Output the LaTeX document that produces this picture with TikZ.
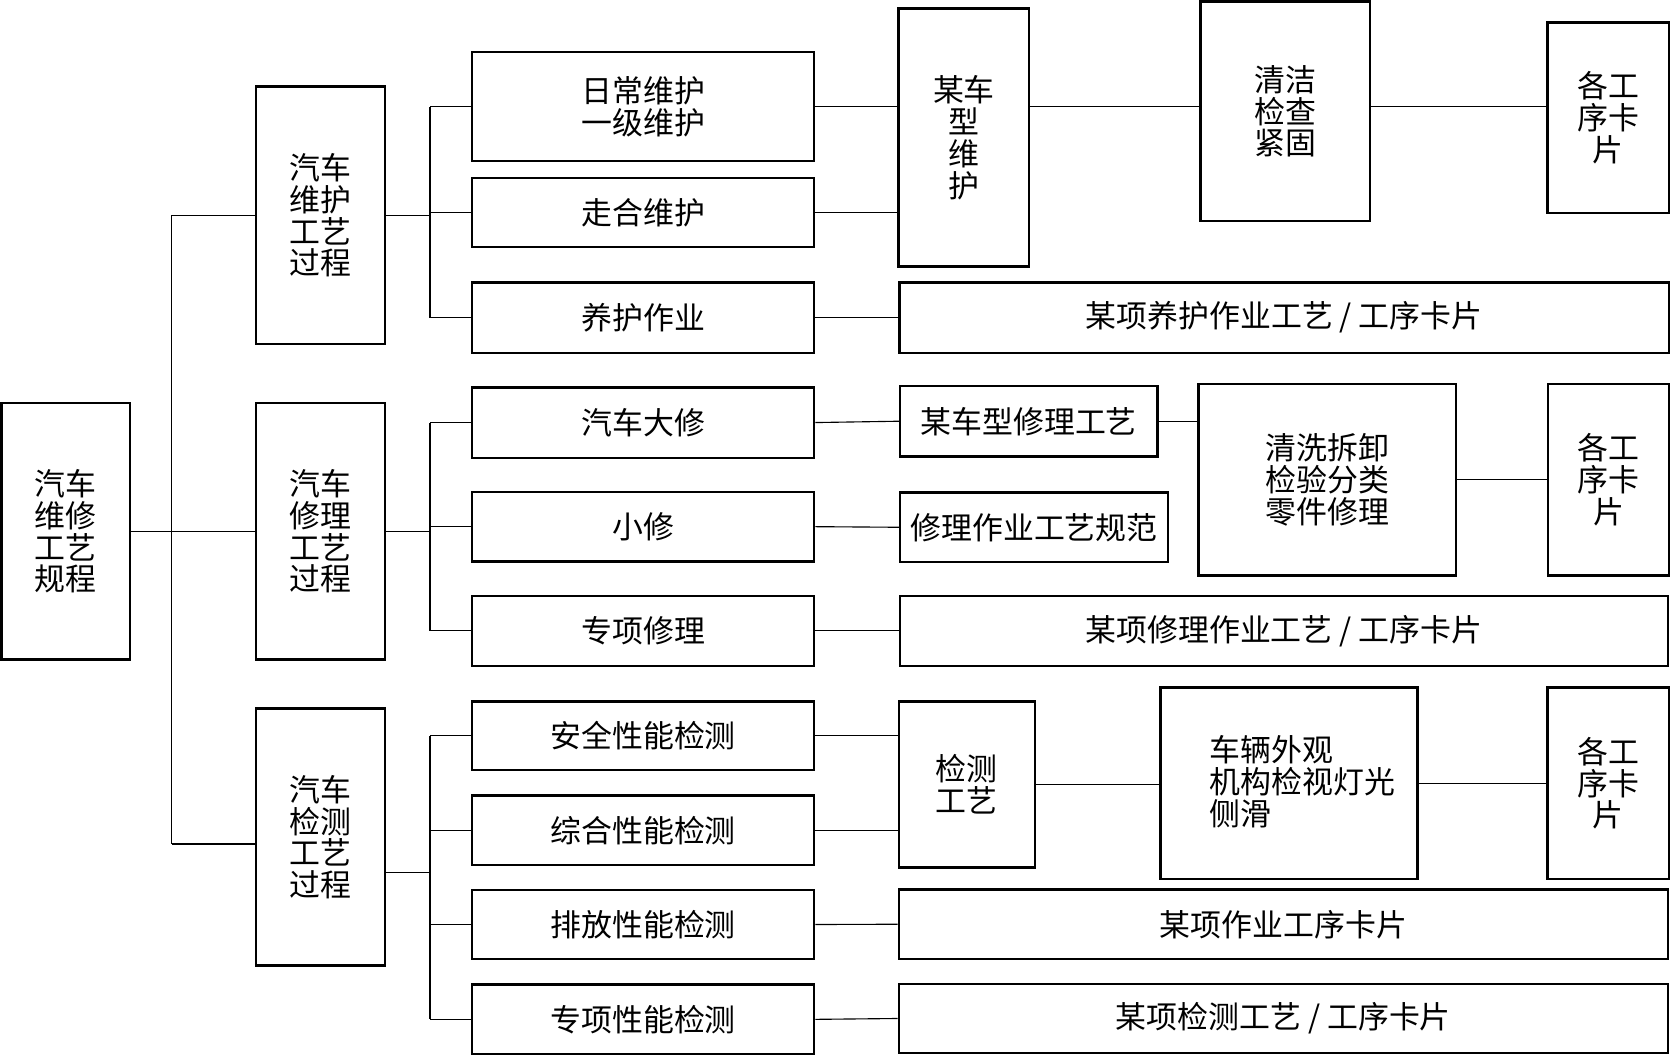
\documentclass[tikz,border=0pt]{standalone}
\usepackage{fontspec}
\newfontfamily\cjk{Noto Sans CJK SC}
\usepackage{tikz}

\begin{document}
\begin{tikzpicture}[x=1cm,y=1cm,
  every node/.style={font=\cjk\fontsize{16.5}{17}\selectfont},
  box/.style={draw, line width=1.3pt, inner sep=0pt, align=center},
  link/.style={line width=0.6pt}]
\useasboundingbox (0,0) rectangle (31.36,-19.82);
\node[box, minimum width=2.41cm, minimum height=4.82cm] (root) at (1.235,-9.97) {汽车\\维修\\工艺\\规程};
\node[box, minimum width=2.42cm, minimum height=4.84cm] (g1) at (6.01,-4.04) {汽车\\维护\\工艺\\过程};
\node[box, minimum width=2.42cm, minimum height=4.82cm] (g2) at (6.01,-9.97) {汽车\\修理\\工艺\\过程};
\node[box, minimum width=2.42cm, minimum height=4.82cm] (g3) at (6.01,-15.71) {汽车\\检测\\工艺\\过程};
\node[box, minimum width=6.42cm, minimum height=2.04cm] (d1) at (12.07,-2.00) {日常维护\\一级维护};
\node[box, minimum width=6.42cm, minimum height=1.30cm] (d2) at (12.07,-3.99) {走合维护};
\node[box, minimum width=6.42cm, minimum height=1.32cm] (d3) at (12.07,-5.96) {养护作业};
\node[box, minimum width=6.42cm, minimum height=1.32cm] (d4) at (12.07,-7.93) {汽车大修};
\node[box, minimum width=6.42cm, minimum height=1.31cm] (d5) at (12.07,-9.884) {小修};
\node[box, minimum width=6.42cm, minimum height=1.32cm] (d6) at (12.07,-11.84) {专项修理};
\node[box, minimum width=6.42cm, minimum height=1.29cm] (d7) at (12.07,-13.81) {安全性能检测};
\node[box, minimum width=6.42cm, minimum height=1.30cm] (d8) at (12.07,-15.58) {综合性能检测};
\node[box, minimum width=6.42cm, minimum height=1.30cm] (d9) at (12.07,-17.35) {排放性能检测};
\node[box, minimum width=6.42cm, minimum height=1.31cm] (d10) at (12.07,-19.13) {专项性能检测};
\node[box, minimum width=2.45cm, minimum height=4.84cm] (m1) at (18.09,-2.58) {某车\\型\\维\\护};
\node[box, minimum width=3.18cm, minimum height=4.12cm] (c1) at (24.12,-2.09) {清洁\\检查\\紧固};
\node[box, minimum width=2.28cm, minimum height=3.58cm] (k1) at (30.18,-2.21) {各工\\序卡\\片};
\node[box, minimum width=14.44cm, minimum height=1.32cm] (l1) at (24.10,-5.96) {某项养护作业工艺 / 工序卡片};
\node[box, minimum width=4.83cm, minimum height=1.33cm] (m2) at (19.305,-7.905) {某车型修理工艺};
\node[box, minimum width=5.03cm, minimum height=1.31cm] (m3) at (19.405,-9.895) {修理作业工艺规范};
\node[box, minimum width=4.826cm, minimum height=3.594cm] (c2) at (24.907,-9.003) {清洗拆卸\\检验分类\\零件修理};
\node[box, minimum width=2.268cm, minimum height=3.594cm] (k2) at (30.186,-9.003) {各工\\序卡\\片};
\node[box, minimum width=14.41cm, minimum height=1.32cm] (l2) at (24.095,-11.84) {某项修理作业工艺 / 工序卡片};
\node[box, minimum width=2.552cm, minimum height=3.112cm] (m4) at (18.144,-14.724) {检测\\工艺};
\node[box, minimum width=4.82cm, minimum height=3.60cm] (c3) at (24.19,-14.70) {};
\node[inner sep=0pt, anchor=west, align=left] (c3t) at (22.70,-14.67) {车辆外观\\机构检视灯光\\侧滑};
\node[box, minimum width=2.28cm, minimum height=3.60cm] (k3) at (30.18,-14.70) {各工\\序卡\\片};
\node[box, minimum width=14.43cm, minimum height=1.31cm] (l3) at (24.084,-17.345) {某项作业工序卡片};
\node[box, minimum width=14.43cm, minimum height=1.29cm] (l4) at (24.084,-19.114) {某项检测工艺 / 工序卡片};
\coordinate (t) at (3.22,0);
\coordinate (b) at (8.07,0);
\coordinate (s3) at (0,-15.84);
\coordinate (u3) at (0,-16.38);
\draw[link] (root.east) -- (root.east -| t);
\draw[link] (t |- g1.west) -- (t |- s3);
\draw[link] (t |- g1.west) -- (g1.west);
\draw[link] (t |- g2.west) -- (g2.west);
\draw[link] (t |- s3) -- (g3.west |- s3);
\draw[link] (g1.east) -- (g1.east -| b);
\draw[link] (g2.east) -- (g2.east -| b);
\draw[link] (g3.east |- u3) -- (b |- u3);
\draw[link] (b |- d1.west) -- (b |- d3.west);
\draw[link] (b |- d4.west) -- (b |- d6.west);
\draw[link] (b |- d7.west) -- (b |- d10.west);
\foreach \n in {d1,d2,d3,d4,d5,d6,d7,d8,d9,d10}
  \draw[link] (b |- \n.west) -- (\n.west);
\draw[link] (d1.east) -- (d1.east -| m1.west);
\draw[link] (d2.east) -- (d2.east -| m1.west);
\draw[link] (m1.east |- d1.east) -- (c1.west |- d1.east);
\draw[link] (c1.east |- d1.east) -- (k1.west |- d1.east);
\draw[link] (d3.east) -- (l1.west);
\draw[link] (d4.east) -- (m2.west);
\draw[link] (m2.east) -- (m2.east -| c2.west);
\draw[link] (d5.east) -- (m3.west);
\draw[link] (c2.east) -- (k2.west);
\draw[link] (d6.east) -- (l2.west);
\draw[link] (d7.east) -- (d7.east -| m4.west);
\draw[link] (d8.east) -- (d8.east -| m4.west);
\draw[link] (m4.east) -- (m4.east -| c3.west);
\draw[link] (c3.east) -- (k3.west);
\draw[link] (d9.east) -- (l3.west);
\draw[link] (d10.east) -- (l4.west);
\end{tikzpicture}
\end{document}
